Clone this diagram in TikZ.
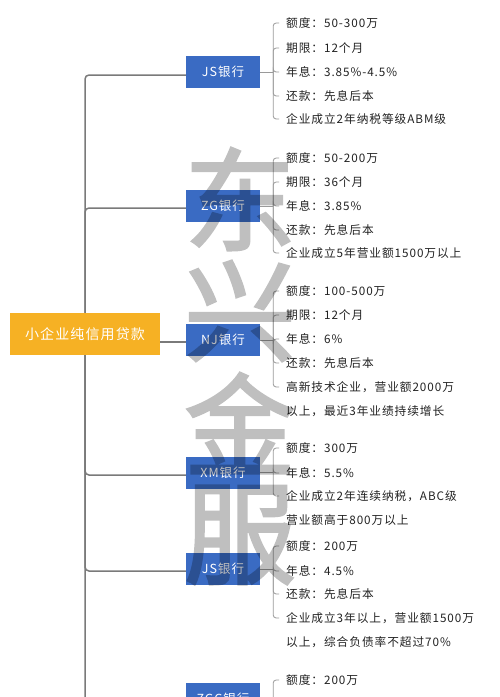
\documentclass[tikz,border=0pt]{standalone}
\usepackage{fontspec}
\setmainfont{Noto Sans CJK SC}[LetterSpace=8]
\newfontfamily\wmfont{Noto Sans CJK SC}[FakeBold=2]
\definecolor{bankblue}{HTML}{3A6BC3}
\definecolor{rootorange}{HTML}{F6B124}
\definecolor{trunkgray}{HTML}{7A7A7A}
\definecolor{leafgray}{HTML}{9A9A9A}
\definecolor{txt}{HTML}{222222}
\begin{document}
\begin{tikzpicture}[x=1pt,y=-1pt,
  bank/.style={fill=bankblue, text=white, minimum width=74pt, minimum height=32pt, inner sep=0pt, font=\fontsize{12.5}{14}\selectfont},
  rootbox/.style={fill=rootorange, text=white, minimum width=150pt, minimum height=42pt, inner sep=0pt, font=\fontsize{14}{16}\selectfont},
  leaf/.style={anchor=west, inner xsep=7pt, inner ysep=0pt, text=txt, font=\fontsize{11.7}{13}\selectfont},
  trunk/.style={draw=trunkgray, line width=1.5pt, rounded corners=4pt},
  twig/.style={draw=leafgray, line width=0.8pt, rounded corners=3pt},
  wm/.style={text=black, inner sep=0pt, font=\wmfont\fontsize{112}{112}\selectfont},
]
\useasboundingbox (0,0) rectangle (500,697);
\clip (0,0) rectangle (500,697);
\fill[white] (0,0) rectangle (500,697);

% root and banks
\node[rootbox] (root) at (85,334) {小企业纯信用贷款};
\node[bank] (js1) at (223,72) {JS银行};
\node[bank] (zg)  at (223,206) {ZG银行};
\node[bank] (nj)  at (223,340) {NJ银行};
\node[bank] (xm)  at (223,472.5) {XM银行};
\node[bank] (js2) at (223,569) {JS银行};
\node[bank] (zgc) at (223,699) {ZGC银行};

% trunk connectors
\draw[trunk] (root.north) |- ([yshift=-3pt]js1.west);
\draw[trunk] (root.north) |- ([yshift=-2pt]zg.west);
\draw[trunk] ([yshift=-8pt]root.east) -- ([yshift=-8pt]root.east -| nj.west);
\draw[trunk] (root.south) |- ([yshift=-2.5pt]xm.west);
\draw[trunk] (root.south) |- ([yshift=-2pt]js2.west);
\draw[trunk] (root.south) |- ([yshift=-2pt]zgc.west);

% bracket points
\coordinate (js1b) at ([xshift=13pt]js1.east);
\coordinate (zgb)  at ([xshift=13pt]zg.east);
\coordinate (njb)  at ([xshift=13pt]nj.east);
\coordinate (xmb)  at ([xshift=13pt]xm.east);
\coordinate (js2b) at ([xshift=13pt]js2.east);
\coordinate (zgcb) at ([xshift=13pt]zgc.east);
\foreach \b in {js1,zg,nj,xm,js2,zgc} \draw[twig] (\b.east) -- (\b b);

% JS1 leaves
\node[leaf] (a1) at (279,23)  {额度：50-300万};
\node[leaf] (a2) at (279,48)  {期限：12个月};
\node[leaf] (a3) at (279,72)  {年息：3.85\%-4.5\%};
\node[leaf] (a4) at (279,96)  {还款：先息后本};
\node[leaf] (a5) at (279,119) {企业成立2年纳税等级ABM级};
\foreach \l in {a1,a2,a3,a4,a5} \draw[twig] (js1b) |- (\l.west);

% ZG leaves
\node[leaf] (b1) at (279,158) {额度：50-200万};
\node[leaf] (b2) at (279,182) {期限：36个月};
\node[leaf] (b3) at (279,206) {年息：3.85\%};
\node[leaf] (b4) at (279,230) {还款：先息后本};
\node[leaf] (b5) at (279,253) {企业成立5年营业额1500万以上};
\foreach \l in {b1,b2,b3,b4,b5} \draw[twig] (zgb) |- (\l.west);

% NJ leaves
\node[leaf] (c1) at (279,291) {额度：100-500万};
\node[leaf] (c2) at (279,315) {期限：12个月};
\node[leaf] (c3) at (279,339) {年息：6\%};
\node[leaf] (c4) at (279,363) {还款：先息后本};
\node[leaf] (c5) at (279,387) {高新技术企业，营业额2000万};
\node[leaf] (c5b) at (279,411) {以上，最近3年业绩持续增长};
\foreach \l in {c1,c2,c3,c4,c5} \draw[twig] (njb) |- (\l.west);

% XM leaves
\node[leaf] (d1) at (279,448) {额度：300万};
\node[leaf] (d2) at (279,473) {年息：5.5\%};
\node[leaf] (d3) at (279,496) {企业成立2年连续纳税，ABC级};
\node[leaf] (d3b) at (279,520) {营业额高于800万以上};
\foreach \l in {d1,d2,d3} \draw[twig] (xmb) |- (\l.west);

% JS2 leaves
\node[leaf] (e1) at (279,546) {额度：200万};
\node[leaf] (e2) at (279,571) {年息：4.5\%};
\node[leaf] (e3) at (279,594) {还款：先息后本};
\node[leaf] (e4) at (279,618) {企业成立3年以上，营业额1500万};
\node[leaf] (e4b) at (279,642) {以上，综合负债率不超过70\%};
\foreach \l in {e1,e2,e3,e4} \draw[twig] (js2b) |- (\l.west);

% ZGC leaves
\node[leaf] (f1) at (279,680) {额度：200万};
\draw[twig] (zgcb) |- (f1.west);

% watermark
\begin{scope}[transparency group, opacity=0.25]
\node[wm] (w1) at (240,199) {东};
\node[wm] (w2) at (240,311) {兴};
\node[wm] (w3) at (240,423) {金};
\node[wm] (w4) at (240,535) {服};
\end{scope}
\end{tikzpicture}
\end{document}
